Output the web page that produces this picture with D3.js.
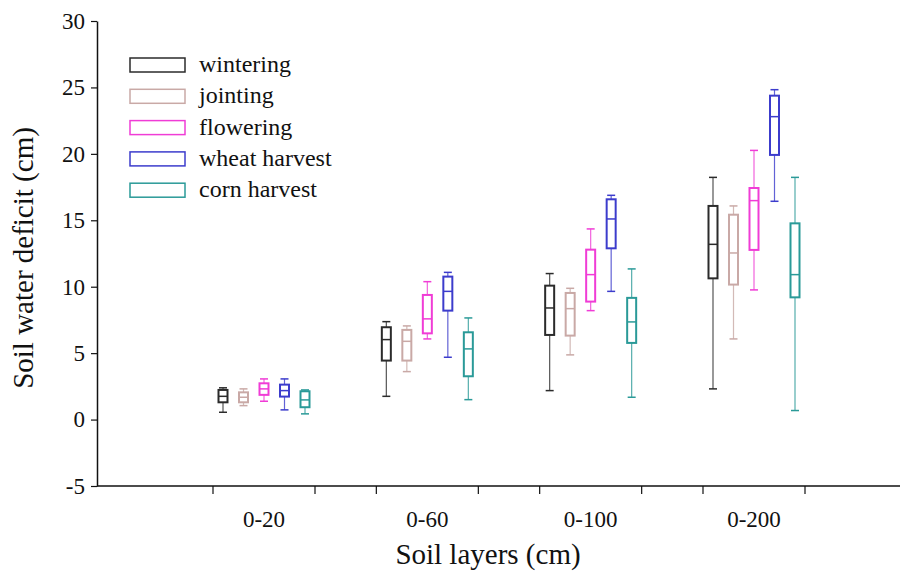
<!DOCTYPE html>
<html>
<head>
<meta charset="utf-8">
<script src="https://cdn.jsdelivr.net/npm/d3@7"></script>
<style>
  body { margin: 0; background: #fff; }
  text { font-family: "Liberation Serif", "Times New Roman", serif; fill: #111; }
</style>
</head>
<body>
<div id="chart"></div>
<script>
// soil layers and growth stages
var layers = ["0-20", "0-60", "0-100", "0-200"];
var stages = ["wintering", "jointing", "flowering", "wheat harvest", "corn harvest"];
var yTicks = [-5, 0, 5, 10, 15, 20, 25, 30];

// [min, q1, median, q3, max] per layer
var wintering = [[0.55, 1.30, 1.75, 2.23, 2.39], [1.75, 4.44, 6.02, 6.95, 7.37], [2.18, 6.37, 8.40, 10.08, 10.99], [2.31, 10.63, 13.19, 16.08, 18.23]];
var jointing = [[1.05, 1.30, 1.68, 2.05, 2.31], [3.61, 4.44, 5.89, 6.75, 7.05], [4.87, 6.32, 8.35, 9.53, 9.88], [6.07, 10.16, 12.54, 15.42, 16.08]];
var flowering = [[1.38, 1.86, 2.31, 2.73, 3.06], [6.07, 6.49, 7.58, 9.38, 10.38], [8.20, 8.88, 10.91, 12.79, 14.35], [9.76, 12.77, 16.48, 17.43, 20.26]];
var wheatHarvest = [[0.73, 1.73, 2.18, 2.63, 3.06], [4.69, 8.20, 9.65, 10.76, 11.08], [9.65, 12.89, 15.10, 16.58, 16.88], [16.43, 19.92, 22.80, 24.38, 24.83]];
var cornHarvest = [[0.43, 0.93, 1.48, 2.13, 2.23], [1.50, 3.26, 5.32, 6.57, 7.65], [1.68, 5.77, 7.35, 9.16, 11.34], [0.68, 9.20, 10.91, 14.77, 18.23]];

var colors = ["#2b2b2b", "#c9a9a6", "#f03cd6", "#3c3ccc", "#2a9a98"];

document.addEventListener("DOMContentLoaded", function(event) {

    var allSeries = [wintering, jointing, flowering, wheatHarvest, cornHarvest];

    var width = 901, height = 572;
    var left = 97, right = 900, top = 21, bottom = 486;

    var svg = d3.select("#chart").append("svg")
        .attr("width", width)
        .attr("height", height);

    var y = d3.scaleLinear().domain([-5, 30]).range([bottom, top]);
    var x = d3.scalePoint().domain(layers).range([264, 754]);
    var xs = d3.scalePoint().domain(stages).range([-41, 41]);

    // y axis
    var yAxis = svg.append("g")
        .attr("transform", "translate(" + left + ",0)")
        .call(d3.axisLeft(y).tickValues(yTicks)
            .tickFormat(function(d) { return String(d); })
            .tickSize(6).tickSizeOuter(0).tickPadding(6));
    yAxis.attr("font-family", null).attr("font-size", null);
    yAxis.select(".domain").attr("stroke", "#111").attr("stroke-width", 1.5);
    yAxis.selectAll(".tick line").attr("stroke", "#111").attr("stroke-width", 1.2);
    yAxis.selectAll(".tick text")
        .attr("fill", "#111")
        .style("font-family", "'Liberation Serif', serif")
        .style("font-size", "23px");

    // x axis line and flanking ticks
    svg.append("line")
        .attr("x1", left).attr("x2", right)
        .attr("y1", bottom).attr("y2", bottom)
        .attr("stroke", "#111").attr("stroke-width", 1.5);

    layers.forEach(function(l) {
        [-51, 51].forEach(function(off) {
            svg.append("line")
                .attr("x1", x(l) + off).attr("x2", x(l) + off)
                .attr("y1", bottom).attr("y2", bottom + 8)
                .attr("stroke", "#111").attr("stroke-width", 1.2);
        });
        svg.append("text")
            .attr("x", x(l))
            .attr("y", 527)
            .attr("text-anchor", "middle")
            .style("font-size", "23px")
            .text(l);
    });

    // axis titles
    svg.append("text")
        .attr("x", 488)
        .attr("y", 564)
        .attr("text-anchor", "middle")
        .style("font-size", "29px")
        .text("Soil layers (cm)");

    svg.append("text")
        .attr("transform", "translate(33," + 258 + ") rotate(-90)")
        .attr("text-anchor", "middle")
        .style("font-size", "29px")
        .text("Soil water deficit (cm)");

    // boxes
    var boxW = 9, capW = 8;
    stages.forEach(function(s, si) {
        var g = svg.append("g");
        var vals = allSeries[si];
        var color = colors[si];
        layers.forEach(function(l, li) {
            var d = vals[li];
            var cx = x(l) + xs(s);
            // whiskers
            g.append("line")
                .attr("x1", cx).attr("x2", cx)
                .attr("y1", y(d[4])).attr("y2", y(d[3]))
                .attr("stroke", color).attr("stroke-width", 1.2).attr("opacity", 0.8);
            g.append("line")
                .attr("x1", cx).attr("x2", cx)
                .attr("y1", y(d[1])).attr("y2", y(d[0]))
                .attr("stroke", color).attr("stroke-width", 1.2).attr("opacity", 0.8);
            [d[0], d[4]].forEach(function(v) {
                g.append("line")
                    .attr("x1", cx - capW / 2).attr("x2", cx + capW / 2)
                    .attr("y1", y(v)).attr("y2", y(v))
                    .attr("stroke", color).attr("stroke-width", 1.5);
            });
            g.append("rect")
                .attr("x", cx - boxW / 2)
                .attr("y", y(d[3]))
                .attr("width", boxW)
                .attr("height", y(d[1]) - y(d[3]))
                .attr("fill", "none")
                .attr("stroke", color).attr("stroke-width", 2);
            g.append("line")
                .attr("x1", cx - boxW / 2).attr("x2", cx + boxW / 2)
                .attr("y1", y(d[2])).attr("y2", y(d[2]))
                .attr("stroke", color).attr("stroke-width", 1.5);
        });
    });

    // legend
    var legend = svg.append("g").attr("transform", "translate(130,58)");
    stages.forEach(function(s, i) {
        legend.append("rect")
            .attr("x", 0)
            .attr("y", i * 31.3)
            .attr("width", 55)
            .attr("height", 14)
            .attr("fill", "none")
            .attr("stroke", colors[i])
            .attr("stroke-width", 1.5);
        legend.append("text")
            .attr("x", 69)
            .attr("y", i * 31.3 + 14)
            .style("font-size", "24px")
            .text(s);
    });
});
</script>
</body>
</html>
